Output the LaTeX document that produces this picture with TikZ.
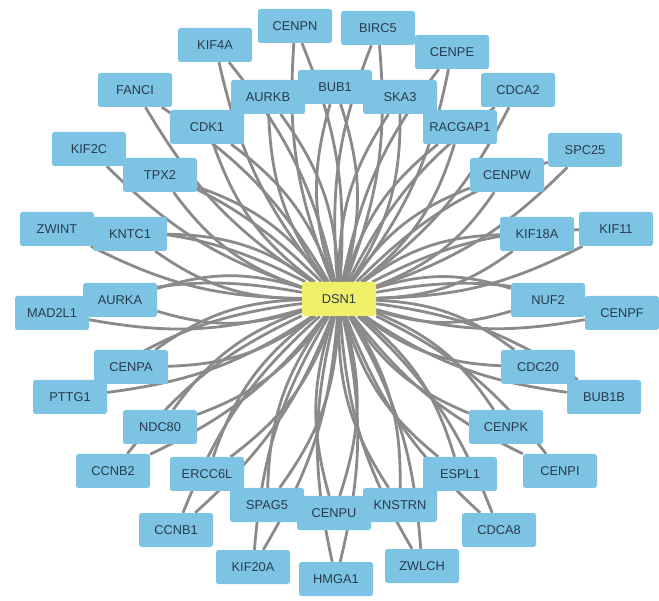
\documentclass[tikz,border=0pt]{standalone}
\usepackage{fontspec}
\setmainfont{Liberation Sans}
\pgfdeclarelayer{background}
\pgfsetlayers{background,main}
\definecolor{gene}{HTML}{7DC4E4}
\definecolor{hub}{HTML}{EFEF6A}
\definecolor{edgegray}{HTML}{8A8A8A}
\definecolor{labeltext}{HTML}{2A3A4C}
\tikzset{
  genebox/.style={draw=none, fill=gene, rounded corners=2.5pt, minimum width=74pt, minimum height=34pt, inner sep=0pt, font=\fontsize{12.8}{13}\selectfont, text=labeltext},
  hubbox/.style={genebox, fill=hub},
  link/.style={draw=edgegray, line width=2.8pt}
}
\begin{document}
\begin{tikzpicture}[x=1pt,y=-1pt]
\useasboundingbox (0,0) rectangle (659,601);
% outer ring
\node[genebox] (KIF4A) at (215,45) {KIF4A};
\node[genebox] (CENPN) at (295,26) {CENPN};
\node[genebox] (BIRC5) at (378,28) {BIRC5};
\node[genebox] (CENPE) at (452,52) {CENPE};
\node[genebox] (CDCA2) at (518,90) {CDCA2};
\node[genebox] (SPC25) at (585,150) {SPC25};
\node[genebox] (KIF11) at (616,229) {KIF11};
\node[genebox] (CENPF) at (622,313) {CENPF};
\node[genebox] (BUB1B) at (604,397) {BUB1B};
\node[genebox] (CENPI) at (560,471) {CENPI};
\node[genebox] (CDCA8) at (499,530) {CDCA8};
\node[genebox] (ZWLCH) at (422,566) {ZWLCH};
\node[genebox] (HMGA1) at (336,579) {HMGA1};
\node[genebox] (KIF20A) at (253,567) {KIF20A};
\node[genebox] (CCNB1) at (176,530) {CCNB1};
\node[genebox] (CCNB2) at (113,471) {CCNB2};
\node[genebox] (PTTG1) at (70,397) {PTTG1};
\node[genebox] (MAD2L1) at (52,313) {MAD2L1};
\node[genebox] (ZWINT) at (57,229) {ZWINT};
\node[genebox] (KIF2C) at (89,149) {KIF2C};
\node[genebox] (FANCI) at (135,90) {FANCI};
% inner ring
\node[genebox] (AURKB) at (268,97) {AURKB};
\node[genebox] (BUB1) at (335,87) {BUB1};
\node[genebox] (SKA3) at (400,97) {SKA3};
\node[genebox] (RACGAP1) at (460,127) {RACGAP1};
\node[genebox] (CENPW) at (507,175) {CENPW};
\node[genebox] (KIF18A) at (537,234) {KIF18A};
\node[genebox] (NUF2) at (548,300) {NUF2};
\node[genebox] (CDC20) at (538,367) {CDC20};
\node[genebox] (CENPK) at (506,427) {CENPK};
\node[genebox] (ESPL1) at (460,474) {ESPL1};
\node[genebox] (KNSTRN) at (400,505) {KNSTRN};
\node[genebox] (CENPU) at (334,513) {CENPU};
\node[genebox] (SPAG5) at (267,505) {SPAG5};
\node[genebox] (ERCC6L) at (207,474) {ERCC6L};
\node[genebox] (NDC80) at (160,427) {NDC80};
\node[genebox] (CENPA) at (131,367) {CENPA};
\node[genebox] (AURKA) at (120,300) {AURKA};
\node[genebox] (KNTC1) at (130,234) {KNTC1};
\node[genebox] (TPX2) at (160,175) {TPX2};
\node[genebox] (CDK1) at (207,127) {CDK1};
% hub
\node[hubbox] (DSN1) at (339,299) {DSN1};
\begin{pgfonlayer}{background}
\foreach \g in {KIF4A,CENPN,BIRC5,CENPE,CDCA2,SPC25,KIF11,CENPF,BUB1B,CENPI,CDCA8,ZWLCH,HMGA1,KIF20A,CCNB1,CCNB2,PTTG1,MAD2L1,ZWINT,KIF2C,FANCI}{
  \draw[link] (DSN1) to[bend left=13] (\g);
  \draw[link] (DSN1) to[bend right=13] (\g);
}
\foreach \g in {AURKB,BUB1,SKA3,RACGAP1,CENPW,KIF18A,NUF2,CDC20,CENPK,ESPL1,KNSTRN,CENPU,SPAG5,ERCC6L,NDC80,CENPA,AURKA,KNTC1,TPX2,CDK1}{
  \draw[link] (DSN1) to[bend left=17] (\g);
  \draw[link] (DSN1) to[bend right=17] (\g);
}
\end{pgfonlayer}
\end{tikzpicture}
\end{document}
